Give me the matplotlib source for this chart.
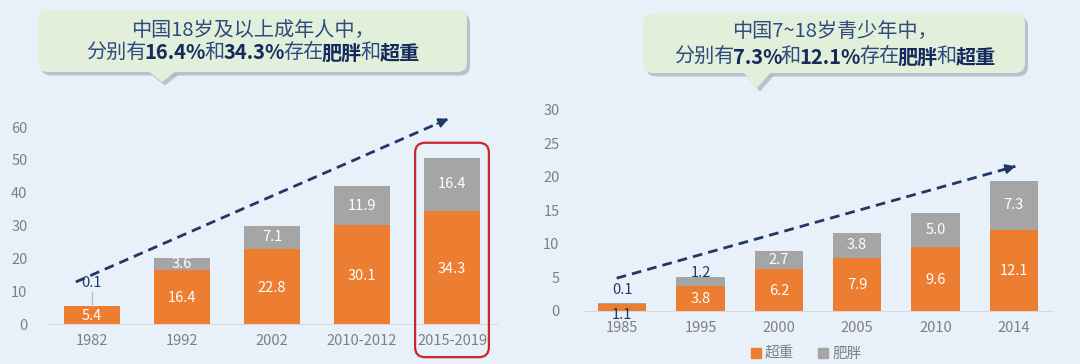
import matplotlib
matplotlib.use("Agg")
import matplotlib.pyplot as plt
from matplotlib.patches import FancyBboxPatch, Polygon, Patch

plt.rcParams['font.family'] = ['Noto Sans CJK SC', 'DejaVu Sans']

# adults 18+
adult_years = ["1982", "1992", "2002", "2010-2012", "2015-2019"]
adult_overweight = [5.4, 16.4, 22.8, 30.1, 34.3]
adult_obese = [0.1, 3.6, 7.1, 11.9, 16.4]

# children 7-18
youth_years = ["1985", "1995", "2000", "2005", "2010", "2014"]
youth_overweight = [1.1, 3.8, 6.2, 7.9, 9.6, 12.1]
youth_obese = [0.1, 1.2, 2.7, 3.8, 5.0, 7.3]

legend_labels = ["超重", "肥胖"]

BG = "#e8f1fa"
ORANGE = "#ed7d31"
GRAY = "#a5a5a5"
NAVY = "#203864"
TICK = "#7f7f7f"
BOX = "#e2efda"


def style_axes(ax, ymax, ystep, ypad):
    ax.set_facecolor(BG)
    for s in ["left", "right", "top"]:
        ax.spines[s].set_visible(False)
    ax.spines["bottom"].set_color("#d9d9d9")
    ax.set_ylim(0, ymax)
    ax.set_yticks(range(0, ymax + 1, ystep))
    ax.tick_params(axis="both", length=0, labelsize=10.5, labelcolor=TICK)
    ax.tick_params(axis="y", pad=ypad)
    ax.tick_params(axis="x", pad=7)


def draw_bars(ax, years, over, obese):
    x = list(range(len(years)))
    ax.bar(x, over, width=0.62, color=ORANGE)
    ax.bar(x, obese, bottom=over, width=0.62, color=GRAY)
    ax.set_xticks(x)
    ax.set_xticklabels(years)
    ax.set_xlim(-0.5, len(years) - 0.5)
    return x


def dashed_arrow(ax, start, end):
    ax.plot([start[0], end[0]], [start[1], end[1]], color=NAVY, lw=2.0,
            linestyle=(0, (3.5, 2.2)), clip_on=False, zorder=4)
    dx = (end[0] - start[0]) * 0.03
    dy = (end[1] - start[1]) * 0.03
    ax.annotate("", xy=end, xytext=(end[0] - dx, end[1] - dy),
                arrowprops=dict(arrowstyle="-|>", color=NAVY, lw=1.5,
                                mutation_scale=14, shrinkA=0, shrinkB=0),
                annotation_clip=False, zorder=5)


def title_box(fig, x0, y_top, w, h, tip_x, tip_y):
    # pixel coordinates measured from top-left, converted to inches
    H = 3.64
    tr = fig.dpi_scale_trans
    bx, by = x0 / 100, H - (y_top + h) / 100
    shadow = FancyBboxPatch((bx + 0.03, by - 0.035), w / 100, h / 100,
                            boxstyle="round,pad=0,rounding_size=0.1",
                            transform=tr, facecolor="#9aa3ad", edgecolor="none",
                            alpha=0.6, zorder=1)
    tip_s = Polygon([((tip_x - 14) / 100 + 0.03, by - 0.035 + 0.01),
                     ((tip_x + 14) / 100 + 0.03, by - 0.035 + 0.01),
                     (tip_x / 100 + 0.03, H - tip_y / 100 - 0.035)],
                    closed=True, transform=tr, facecolor="#9aa3ad",
                    edgecolor="none", alpha=0.6, zorder=1)
    box = FancyBboxPatch((bx, by), w / 100, h / 100,
                         boxstyle="round,pad=0,rounding_size=0.1",
                         transform=tr, facecolor=BOX, edgecolor="none", zorder=2)
    tip = Polygon([((tip_x - 14) / 100, by + 0.01), ((tip_x + 14) / 100, by + 0.01),
                   (tip_x / 100, H - tip_y / 100)], closed=True, transform=tr,
                  facecolor=BOX, edgecolor="none", zorder=2)
    for p in [shadow, tip_s, box, tip]:
        fig.add_artist(p)


def rich_line(fig, xc, y_top, parts, size=14.5):
    renderer = fig.canvas.get_renderer()
    tr = fig.dpi_scale_trans
    y = 3.64 - y_top / 100
    texts = []
    for s, bold in parts:
        t = fig.text(0, y, s, fontsize=size, transform=tr, va="center", ha="left",
                     fontweight="bold" if bold else "normal",
                     color="#142a5c" if bold else "#2f4a7e", zorder=3)
        texts.append(t)
    widths = [t.get_window_extent(renderer).width / fig.dpi - 0.015 for t in texts]
    x = xc / 100 - sum(widths) / 2
    for t, wd in zip(texts, widths):
        t.set_x(x)
        x += wd


fig = plt.figure(figsize=(10.8, 3.64), dpi=100, facecolor=BG)

# ---- left chart: adults
ax1 = fig.add_axes([47 / 1080, 40 / 364, 450 / 1080, 197 / 364])
style_axes(ax1, 60, 10, 14)
x1 = draw_bars(ax1, adult_years, adult_overweight, adult_obese)
for i in x1:
    ov, ob = adult_overweight[i], adult_obese[i]
    ax1.text(i, ov / 2 - 0.4, f"{ov:.1f}", ha="center", va="center",
             color="white", fontsize=10.5)
    if ob < 1:
        top = ov + ob
        ax1.plot([i, i], [top, top + 4.2], color="#bfbfbf", lw=1)
        ax1.text(i, top + 7, f"{ob:.1f}", ha="center", va="center",
                 color=NAVY, fontsize=10.5)
    else:
        ax1.text(i, ov + ob / 2, f"{ob:.1f}", ha="center", va="center",
                 color="white", fontsize=10.5)
dashed_arrow(ax1, (-0.18, 12.8), (3.96, 62.5))

# red frame around the latest group
trans = ax1.transData + fig.dpi_scale_trans.inverted()
last = len(adult_years) - 1
(fx0, fy1) = trans.transform((last - 0.41, adult_overweight[last] + adult_obese[last] + 4.5))
(fx1, fy0) = trans.transform((last + 0.41, -10.1))
frame = FancyBboxPatch((fx0, fy0), fx1 - fx0, fy1 - fy0,
                       boxstyle="round,pad=0,rounding_size=0.1",
                       transform=fig.dpi_scale_trans, facecolor="none",
                       edgecolor="#c9252b", lw=1.6, zorder=6)
fig.add_artist(frame)

# ---- right chart: children
ax2 = fig.add_axes([583 / 1080, 53 / 364, 470 / 1080, 201 / 364])
style_axes(ax2, 30, 5, 17)
x2 = draw_bars(ax2, youth_years, youth_overweight, youth_obese)
for i in x2:
    ov, ob = youth_overweight[i], youth_obese[i]
    if ov < 2:
        ax2.text(i, -0.6, f"{ov:.1f}", ha="center", va="center",
                 color=NAVY, fontsize=10.5, clip_on=False)
    else:
        ax2.text(i, ov / 2 - 0.1, f"{ov:.1f}", ha="center", va="center",
                 color="white", fontsize=10.5)
    top = ov + ob
    if ob < 0.5:
        ax2.text(i, top + 1.9, f"{ob:.1f}", ha="center", va="center",
                 color=NAVY, fontsize=10.5)
    elif ob < 2:
        ax2.text(i, top + 0.7, f"{ob:.1f}", ha="center", va="center",
                 color=NAVY, fontsize=10.5)
    else:
        ax2.text(i, ov + ob / 2, f"{ob:.1f}", ha="center", va="center",
                 color="white", fontsize=10.5)
dashed_arrow(ax2, (-0.07, 4.9), (5.02, 21.6))

handles = [Patch(color=ORANGE), Patch(color=GRAY)]
fig.legend(handles, legend_labels, loc="center", ncol=2, frameon=False,
           bbox_to_anchor=(806 / 1080, 10 / 364), fontsize=10.5,
           labelcolor=TICK, handlelength=0.7, handleheight=0.7,
           handletextpad=0.3, columnspacing=1.6)

# ---- title call-outs
title_box(fig, 38, 10, 429, 62, 162, 82)
title_box(fig, 643, 13, 382, 60, 757, 88)

rich_line(fig, 252, 30, [("中国18岁及以上成年人中，", False)])
rich_line(fig, 252, 53, [("分别有", False), ("16.4%", True), ("和", False),
                         ("34.3%", True), ("存在", False), ("肥胖", True),
                         ("和", False), ("超重", True)])
rich_line(fig, 834, 31, [("中国7~18岁青少年中，", False)])
rich_line(fig, 834, 57, [("分别有", False), ("7.3%", True), ("和", False),
                         ("12.1%", True), ("存在", False), ("肥胖", True),
                         ("和", False), ("超重", True)])

fig.savefig("out.png", dpi=100, facecolor=BG)
